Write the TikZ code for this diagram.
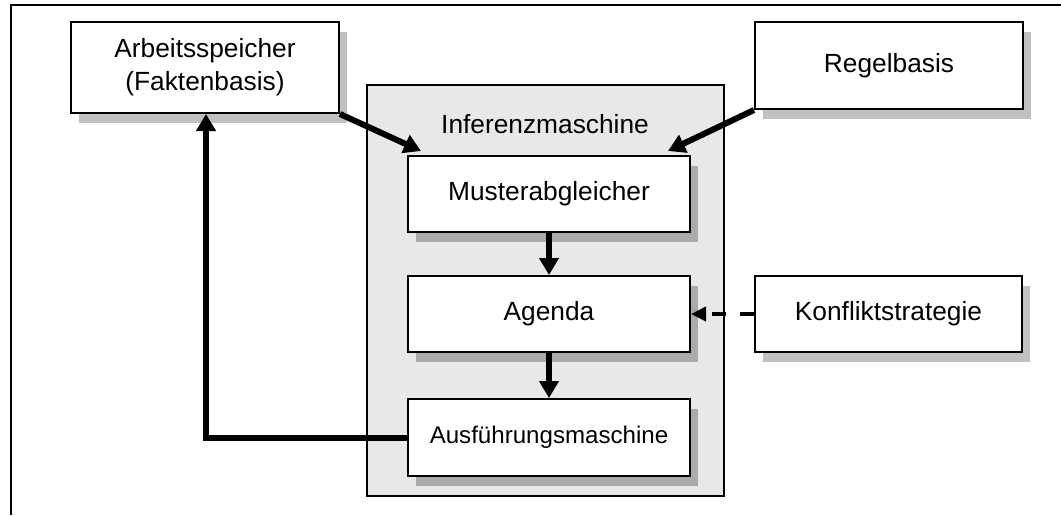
\documentclass[tikz,border=0pt]{standalone}
\usepackage{fontspec}
\setmainfont{Liberation Sans}
\usetikzlibrary{arrows.meta,shadows}
\definecolor{panelgray}{HTML}{E8E8E8}
\definecolor{shadeout}{HTML}{C0C0C0}
\definecolor{shadein}{HTML}{AAAAAA}
\begin{document}
\begin{tikzpicture}[x=1pt,y=-1pt,
  label font/.style={font=\fontsize{26.3}{33}\selectfont},
  unit/.style={draw=black, line width=2pt, fill=white, inner sep=0pt,
    align=center, label font},
  outshadow/.style={drop shadow={shadow xshift=8pt, shadow yshift=-10pt,
    fill=shadeout, opacity=1}},
  inshadow/.style={drop shadow={shadow xshift=8pt, shadow yshift=-10pt,
    fill=shadein, opacity=1}},
  enginebox/.style={draw=black, line width=2pt, fill=panelgray, inner sep=0pt},
  flow/.style={line width=6pt, -{Triangle[width=19pt,length=17pt]}},
  weakflow/.style={line width=4pt, dash pattern=on 14pt off 14pt,
    -{Triangle[width=14pt,length=15pt]}}]

\useasboundingbox (0,0) rectangle (1061,515);

% frame (top and left edges)
\draw[line width=2pt] (11,515) -- (11,5) -- (1061,5);

% inference engine container
\node[enginebox, minimum width=357pt, minimum height=411pt] (engine) at (545.5,290.5) {};
\node[label font] (title) at (545,124) {Inferenzmaschine};

% outer components
\node[unit, outshadow, minimum width=268pt, minimum height=91pt] (mem) at (205,67.5)
  {Arbeitsspeicher\\(Faktenbasis)};
\node[unit, outshadow, minimum width=268pt, minimum height=87pt] (rules) at (889,65.5)
  {Regelbasis};
\node[unit, outshadow, minimum width=267pt, minimum height=76pt] (conflict) at (888.5,314)
  {Konfliktstrategie};

% inner components
\node[unit, inshadow, minimum width=282pt, minimum height=76pt] (match) at (549,194)
  {Musterabgleicher};
\node[unit, inshadow, minimum width=282pt, minimum height=76pt] (agenda) at (549,314)
  {Agenda};
\node[unit, inshadow, minimum width=282pt, minimum height=77pt,
  font=\fontsize{24.1}{30}\selectfont] (exec) at (549,437.5)
  {Ausführungsmaschine};

% arrow targets on the matcher
\coordinate (matchL) at ([xshift=14pt,yshift=4pt]match.north west);
\coordinate (matchR) at ([xshift=-23pt,yshift=4pt]match.north east);

% connectors
\draw[flow] (mem.south east) -- (matchL);
\draw[flow] (rules.south west) -- (matchR);
\draw[flow] (match.south) -- (agenda.north);
\draw[flow] (agenda.south) -- (exec.north);
\draw[flow] (exec.west) -| ([xshift=1pt]mem.south);
\draw[weakflow] (conflict.west) -- (agenda.east);

\end{tikzpicture}
\end{document}
